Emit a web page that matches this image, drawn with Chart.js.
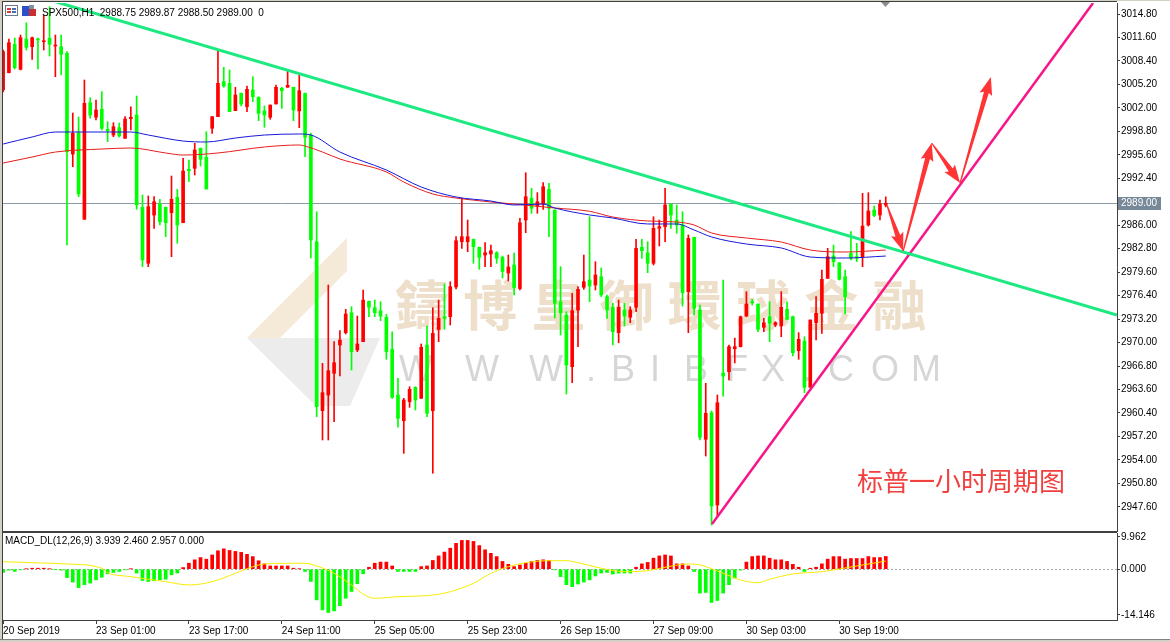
<!DOCTYPE html>
<html>
<head>
<meta charset="utf-8">
<title>SPX500 H1</title>
<script src="https://cdn.jsdelivr.net/npm/chart.js@4/dist/chart.umd.min.js"></script>
<style>
  html, body { margin: 0; padding: 0; background: #fff; }
  #box { position: relative; width: 1170px; height: 642px; overflow: hidden; background: #fff; }
  #box canvas { position: absolute; left: 0; }
  #priceCanvas { top: 0; }
  #macdCanvas { top: 532px; }
</style>
</head>
<body>
<div id="box">
  <canvas id="priceCanvas" width="1170" height="532"></canvas>
  <canvas id="macdCanvas" width="1170" height="110"></canvas>
</div>
<script>
// hourly candles, bar 0 = 20 Sep 2019
const opens = [
  3004.44,3006.80,3010.67,3007.26,3011.39,3010.34,3011.39,3011.02,3011.49,3010.44,
  3010.34,3009.44,2995.71,2998.62,2986.81,3002.71,3000.72,3001.81,2999.08,2998.30,
  2999.30,2997.85,3000.53,3001.03,2988.44,2980.81,2987.39,2988.89,2988.44,2987.71,
  2989.81,2986.34,2993.63,2993.76,2996.49,2995.26,2999.22,3000.80,3005.57,3005.35,
  3001.62,3003.99,3002.16,3004.44,3003.44,3001.58,3000.72,3002.53,3004.67,3004.81,
  3004.81,3001.58,3003.99,2998.30,2983.75,2960.71,2962.85,2965.81,2969.67,2971.35,
  2974.07,2968.99,2970.12,2975.63,2974.76,2974.35,2973.45,2969.08,2962.85,2959.35,
  2961.94,2963.90,2962.40,2969.67,2960.71,2971.81,2973.53,2973.53,2977.58,2983.75,
  2983.75,2984.08,2982.99,2981.94,2982.08,2982.25,2981.63,2979.49,2980.58,2977.36,
  2986.71,2989.67,2988.62,2988.89,2990.90,2988.08,2975.57,2973.76,2966.71,2974.44,
  2977.54,2978.53,2977.85,2978.98,2976.26,2974.81,2971.35,2974.44,2973.45,2974.81,
  2982.99,2982.25,2980.81,2985.58,2985.80,2988.89,2986.71,2986.03,2976.94,2984.35,
  2974.44,2956.81,2960.44,2947.85,2965.85,2966.03,2969.16,2969.44,2973.62,2975.57,
  2975.26,2972.08,2973.53,2972.40,2972.26,2974.54,2973.53,2968.89,2970.21,2963.90,
  2972.71,2973.99,2978.76,2981.80,2980.89,2978.98,2982.17,2981.71,2981.71,2986.03,
  2988.08,2987.39,2988.75
];
const highs = [
  3009.89,3011.39,3011.53,3011.94,3013.61,3011.67,3011.53,3014.66,3015.80,3011.94,
  3011.94,3009.66,3001.30,3000.76,3005.80,3003.39,3003.08,3004.21,3000.12,2999.98,
  2999.94,3000.80,3002.16,3003.62,2990.12,2989.99,2989.89,2989.54,2988.48,2992.71,
  2990.90,2995.13,2994.89,2997.17,2996.53,2998.75,3000.80,3009.89,3007.53,3007.17,
  3004.81,3004.03,3004.98,3006.25,3003.52,3002.26,3002.39,3005.12,3004.81,3007.07,
  3004.81,3006.72,3004.03,2998.58,2987.84,2967.17,2977.85,2970.12,2971.62,2974.54,
  2974.89,2973.62,2977.17,2975.67,2975.80,2975.57,2973.86,2971.48,2965.13,2962.40,
  2963.98,2963.98,2969.81,2972.26,2974.75,2975.80,2977.99,2978.30,2984.44,2989.67,
  2986.71,2984.12,2983.03,2983.62,2983.30,2982.39,2981.80,2981.94,2982.21,2986.94,
  2993.16,2991.04,2990.44,2991.80,2991.72,2988.08,2980.35,2974.21,2976.72,2977.62,
  2981.94,2987.16,2981.03,2980.17,2976.49,2975.35,2975.80,2975.35,2974.89,2984.08,
  2984.08,2983.75,2987.16,2986.71,2991.04,2988.89,2988.76,2987.84,2984.67,2984.39,
  2975.12,2964.45,2960.67,2962.85,2978.53,2969.67,2970.62,2973.62,2976.94,2975.90,
  2975.26,2973.31,2975.57,2972.85,2976.94,2975.57,2973.62,2971.35,2970.80,2973.08,
  2976.26,2979.90,2982.85,2983.30,2980.89,2979.90,2985.12,2983.54,2990.35,2990.44,
  2988.62,2989.44,2989.87
];
const lows = [
  3004.17,3006.76,3007.30,3007.17,3009.89,3008.62,3007.30,3009.89,3009.07,3006.25,
  3006.48,2983.30,2993.98,2989.89,2986.81,3000.58,3000.35,2998.98,2997.39,2998.07,
  2998.03,2997.85,2998.98,2988.17,2980.35,2980.35,2985.58,2986.03,2984.44,2981.71,
  2983.54,2986.34,2991.94,2992.85,2994.08,2990.94,2998.53,3000.80,3004.81,3001.48,
  3001.62,3002.26,3001.48,3002.84,3000.25,2999.35,3000.44,3002.53,3001.94,3004.81,
  3000.25,2999.30,2995.34,2981.53,2959.89,2956.72,2956.72,2959.21,2965.44,2971.17,
  2966.26,2968.76,2970.12,2973.53,2973.53,2972.98,2967.72,2962.40,2958.45,2954.90,
  2961.17,2960.81,2962.40,2959.89,2952.18,2970.12,2971.81,2972.40,2977.30,2982.85,
  2982.39,2980.81,2979.99,2980.35,2980.35,2980.81,2978.80,2978.40,2976.49,2977.17,
  2984.98,2987.63,2987.63,2988.17,2984.44,2973.35,2971.03,2962.99,2964.53,2969.44,
  2977.26,2975.57,2977.17,2976.26,2973.31,2969.67,2969.98,2972.26,2972.71,2974.21,
  2981.49,2979.53,2980.58,2983.17,2983.75,2985.58,2984.90,2974.99,2971.35,2973.76,
  2956.72,2954.53,2945.13,2946.26,2962.71,2964.90,2967.22,2969.40,2973.53,2975.12,
  2971.48,2971.48,2970.12,2972.16,2970.80,2973.08,2968.17,2967.72,2963.17,2963.90,
  2970.35,2971.26,2978.76,2980.35,2978.53,2973.90,2981.26,2981.03,2980.35,2985.89,
  2987.16,2986.71,2988.50
];
const closes = [
  3009.66,3010.89,3007.48,3011.57,3010.26,3011.57,3011.26,3011.16,3010.67,3010.57,
  3009.31,2996.03,2998.53,2990.26,3002.62,3001.03,3001.71,2999.22,2998.89,2999.43,
  2998.17,3000.48,3000.72,2988.76,2981.26,2988.53,2989.21,2986.48,2986.34,2989.54,
  2986.03,2993.39,2993.44,2996.26,2994.99,2990.94,3000.80,3005.35,3004.98,3001.48,
  3003.76,3002.53,3004.53,3003.52,3001.26,3001.03,3002.39,3004.81,3004.34,3005.08,
  3001.71,3004.34,2997.99,2983.99,2961.26,2963.17,2966.16,2967.26,2970.35,2973.90,
  2968.76,2969.81,2975.80,2974.81,2974.07,2973.62,2968.76,2962.54,2959.67,2962.17,
  2963.63,2962.17,2969.36,2960.36,2971.26,2973.31,2973.31,2977.62,2983.89,2984.44,
  2984.44,2983.07,2981.63,2982.25,2982.53,2981.49,2979.70,2980.30,2977.51,2986.34,
  2989.89,2988.31,2989.21,2991.25,2988.31,2975.35,2974.07,2966.94,2974.35,2977.26,
  2978.30,2977.71,2979.21,2976.49,2974.44,2971.48,2974.81,2973.62,2974.44,2982.85,
  2982.53,2980.81,2985.58,2985.80,2988.76,2987.39,2986.03,2976.80,2984.22,2974.67,
  2957.08,2960.36,2947.72,2961.80,2965.44,2969.44,2969.44,2973.53,2975.26,2975.44,
  2971.81,2972.71,2972.63,2972.71,2974.81,2973.17,2968.62,2970.45,2963.90,2973.08,
  2973.99,2978.63,2981.71,2981.03,2978.63,2976.26,2981.49,2981.49,2985.89,2987.94,
  2987.33,2988.89,2989.00
];

// two moving averages, read at a subset of bars
const blueMaBars = [0,5,9,14,22,25,31,35,40,45,51,53,58,66,72,78,84,88,93,95,101,105,111,116,119,122,128,134,139,145,152];
const blueMa = [2997.07,2998.03,2998.71,2998.71,2998.71,2998.30,2997.48,2997.35,2997.89,2998.30,2998.44,2998.30,2995.98,2993.53,2991.21,2989.85,2989.30,2988.76,2988.89,2988.35,2987.40,2986.98,2986.17,2986.17,2985.35,2984.40,2983.44,2982.90,2981.67,2981.53,2981.80];
const redMaBars = [0,5,9,17,22,28,31,37,45,51,52,55,58,66,69,74,78,84,88,95,101,105,111,116,119,122,128,134,139,145,152];
const redMa = [2994.48,2995.30,2995.98,2996.39,2996.53,2995.85,2995.57,2995.85,2996.67,2996.94,2996.80,2995.98,2995.03,2993.26,2991.89,2990.26,2989.71,2989.17,2988.89,2988.35,2987.90,2987.12,2986.58,2986.44,2986.03,2984.94,2984.26,2983.71,2982.62,2982.35,2982.62];

// hand-drawn lines: [bar, price] anchors
const greenTrend = [[7.2, 3016.90], [191.8, 2973.76]];
const pinkTrend = [[122.08, 2945.26], [187.7, 3016.30]];
const arrowBars = [152.2, 155.0, 159.9, 164.8, 170.1];
const arrowPrices = [2988.76, 2982.49, 2997.21, 2991.76, 3006.21];

// MACD histogram + signal
const macdHist = [
  -1.0,-0.3,-0.7,-0.2,0.1,0.3,0.3,0.3,0.1,-0.1,
  -0.3,-2.6,-4.0,-5.7,-4.8,-4.3,-3.3,-2.5,-1.4,-1.0,
  -0.7,-0.2,0.1,-1.2,-3.5,-3.8,-3.6,-3.3,-3.1,-1.75,
  -1.2,0.5,1.85,2.9,3.6,3.1,4.4,5.7,6.3,5.8,
  5.5,5.2,4.6,3.9,2.6,1.65,1.0,1.0,1.0,1.0,
  0.3,0.1,-0.7,-3.8,-9.5,-12.6,-13.4,-12.9,-11.3,-9.0,
  -6.9,-4.5,-1.4,0.6,1.85,2.2,2.2,1.0,-0.7,-0.7,
  -0.7,-0.7,0.8,1.0,2.7,4.1,5.3,6.5,8.0,8.9,
  8.9,8.6,7.3,6.0,4.9,3.9,2.4,1.5,0.8,1.3,
  1.85,2.4,2.7,2.9,2.7,-0.2,-2.3,-4.8,-5.4,-4.6,
  -4.0,-3.3,-2.1,-1.2,-1.0,-1.5,-1.2,-1.2,-1.2,0.6,
  1.65,2.1,3.4,4.1,4.4,4.1,1.65,1.65,1.0,-0.7,
  -7.4,-7.2,-10.3,-9.7,-7.4,-4.8,-2.8,-0.3,2.2,3.9,
  4.1,4.1,3.4,2.9,2.9,2.4,1.5,0.6,-0.7,0.3,
  0.6,1.65,3.1,3.9,3.9,3.1,3.3,3.3,3.3,3.9,
  3.6,3.6,3.94
];
const signalBars = [0,5,11,17,18,22,28,32,36,40,43,45,49,52,54,57,60,62,64,68,74,77,81,84,87,90,94,97,99,103,107,111,114,118,120,124,127,130,132,136,141,147,152];
const signalVals = [2.32,2.0,1.61,0.28,-1.08,-2.32,-3.87,-4.89,-3.87,-1.27,0.77,1.61,1.83,1.83,0.99,-1.27,-4.89,-7.68,-9.01,-8.52,-8.0,-6.98,-4.37,-1.27,0.77,2.0,2.63,2.63,2.0,0.28,-0.77,-0.46,0.59,1.61,1.30,-1.27,-3.35,-4.18,-3.13,-1.48,-0.77,0.99,2.5];

// axes
const priceTicks = [3014.8,3011.6,3008.4,3005.2,3002.0,2998.8,2995.6,2992.4,2986.0,2982.8,2979.6,2976.4,2973.2,2970.0,2966.8,2963.6,2960.4,2957.2,2954.0,2950.8,2947.6];
const priceMin = 2944.31, priceMax = 3016.30;
const macdTicks = [9.962, 0, -14.146];
const macdMin = -15.73, macdMax = 11.2;
const timeTickBars = [0,16,32,48,64,80,96,112,128,144];
const timeTickLabels = ['20 Sep 2019','23 Sep 01:00','23 Sep 17:00','24 Sep 11:00','25 Sep 05:00','25 Sep 23:00','26 Sep 15:00','27 Sep 09:00','30 Sep 03:00','30 Sep 19:00'];
const barMin = -0.017, barMax = 191.82;

const UP = '#ff0000', DOWN = '#00ff00';
const last = closes.length - 1;

Chart.defaults.font.family = "'Liberation Sans', Arial, sans-serif";
Chart.defaults.font.size = 10;
Chart.defaults.color = '#000';

function poly(ctx, pts) {
  ctx.beginPath();
  pts.forEach((p, k) => k ? ctx.lineTo(p[0], p[1]) : ctx.moveTo(p[0], p[1]));
  ctx.closePath();
  ctx.fill();
}

function arrow(ctx, x1, y1, x2, y2, hl, hw, sw) {
  const L = Math.hypot(x2 - x1, y2 - y1);
  const ux = (x2 - x1) / L, uy = (y2 - y1) / L, px = -uy, py = ux;
  const bx = x2 - ux * hl, by = y2 - uy * hl;
  poly(ctx, [
    [x1 + px * 0.6, y1 + py * 0.6],
    [bx + px * sw / 2, by + py * sw / 2],
    [bx + px * hw / 2 - ux * 2, by + py * hw / 2 - uy * 2],
    [x2, y2],
    [bx - px * hw / 2 - ux * 2, by - py * hw / 2 - uy * 2],
    [bx - px * sw / 2, by - py * sw / 2],
    [x1 - px * 0.6, y1 - py * 0.6]
  ]);
}

function windowEdge(ctx, h) {
  ctx.fillStyle = '#d4d0c8'; ctx.fillRect(0, 0, 2, h);
  ctx.fillStyle = '#404040'; ctx.fillRect(2, 0, 1, h);
}

// keep the plot box exactly where the padding puts it
function noOverhang(s) {
  s.paddingTop = 0; s.paddingBottom = 0; s.paddingLeft = 0; s.paddingRight = 0;
}

const priceDeco = {
  id: 'priceDeco',
  beforeDatasetsDraw(chart) {
    const { ctx, chartArea: a, scales: { y } } = chart;
    ctx.save();
    ctx.beginPath(); ctx.rect(a.left, a.top, a.right - a.left, a.bottom - a.top); ctx.clip();
    // watermark logo
    ctx.fillStyle = '#f5ead8';
    poly(ctx, [[247, 338], [347, 238], [347, 271], [280, 338]]);
    ctx.fillStyle = '#ececec';
    poly(ctx, [[247, 338], [380, 338], [350, 406], [316, 406]]);
    // watermark text
    ctx.textAlign = 'center'; ctx.textBaseline = 'middle';
    ctx.fillStyle = '#eedfca';
    ctx.font = 'bold 54px "Noto Sans CJK TC"';
    const wm = ['鑄','博','皇','御','環','球','金','融'];
    wm.forEach((c, k) => ctx.fillText(c, 422 + k * 68.2, 305));
    ctx.fillStyle = '#d6d6d6';
    ctx.font = '36px "Liberation Sans"';
    const url = ['W','W','W','.','B','I','B','F','X','.','C','O','M'];
    const ux = [416, 482, 546, 591, 623, 655, 696, 737, 773, 807, 841, 885, 926];
    url.forEach((c, k) => ctx.fillText(c, ux[k], 371));
    // bid line
    const yp = Math.round(y.getPixelForValue(closes[last])) + 0.5;
    ctx.strokeStyle = '#8a98a8'; ctx.lineWidth = 1;
    ctx.beginPath(); ctx.moveTo(a.left, yp); ctx.lineTo(a.right, yp); ctx.stroke();
    ctx.restore();
  },
  afterDatasetsDraw(chart) {
    const { ctx, scales: { x, y } } = chart;
    ctx.save();
    ctx.fillStyle = '#ff3434';
    for (let k = 0; k < arrowBars.length - 1; k++) {
      arrow(ctx,
        x.getPixelForValue(arrowBars[k]), y.getPixelForValue(arrowPrices[k]),
        x.getPixelForValue(arrowBars[k + 1]), y.getPixelForValue(arrowPrices[k + 1]),
        16, 13, 5);
    }
    ctx.fillStyle = '#f04040';
    ctx.font = '26px "Noto Sans CJK SC"';
    ctx.textAlign = 'left'; ctx.textBaseline = 'middle';
    ctx.fillText('标普一小时周期图', 857, 481);
    ctx.restore();
  },
  afterDraw(chart) {
    const { ctx, chartArea: a, scales: { y } } = chart;
    ctx.save();
    windowEdge(ctx, chart.height);
    ctx.fillStyle = '#d4d0c8'; ctx.fillRect(0, 0, chart.width, 1);
    ctx.fillStyle = '#404040'; ctx.fillRect(2, 1, a.right - 2, 1);
    ctx.fillRect(2, a.bottom, a.right - 2, 1);
    // header icons + text
    ctx.fillStyle = '#fff'; ctx.fillRect(5, 5, 13, 11);
    ctx.strokeStyle = '#6b7b8c'; ctx.strokeRect(5.5, 5.5, 12, 10);
    ctx.fillStyle = '#d04040'; ctx.fillRect(7, 8, 4, 2); ctx.fillRect(7, 11, 4, 2);
    ctx.fillStyle = '#4a6fb0'; ctx.fillRect(12, 8, 4, 2); ctx.fillRect(12, 11, 4, 2);
    ctx.fillStyle = '#2d4fc8'; ctx.fillRect(22, 6, 7, 10);
    ctx.fillStyle = '#c83030'; ctx.fillRect(29, 9, 7, 7);
    ctx.fillStyle = '#8090a0'; ctx.fillRect(29, 5, 5, 4);
    ctx.fillStyle = '#000'; ctx.font = '10px "Liberation Sans"';
    ctx.textAlign = 'left'; ctx.textBaseline = 'middle';
    ctx.fillText('SPX500,H1  ' + [opens[last], highs[last], lows[last], closes[last]].map(v => v.toFixed(2)).join(' ') + '  0', 42, 13);
    // shift marker
    ctx.fillStyle = '#8c8c8c';
    poly(ctx, [[881, 2], [890, 2], [885.5, 7]]);
    // bid price box
    const yp = Math.round(y.getPixelForValue(closes[last]));
    ctx.fillStyle = '#778899'; ctx.fillRect(a.right + 1, yp - 6, 43, 13);
    ctx.fillStyle = '#fff';
    ctx.fillText(closes[last].toFixed(2), a.right + 4, yp + 0.5);
    ctx.restore();
  }
};

new Chart(document.getElementById('priceCanvas'), {
  data: {
    datasets: [
      { type: 'line', data: greenTrend.map(p => ({ x: p[0], y: p[1] })), borderColor: '#1cea80', borderWidth: 3, pointRadius: 0, order: 0 },
      { type: 'line', data: pinkTrend.map(p => ({ x: p[0], y: p[1] })), borderColor: '#f8158a', borderWidth: 2.5, pointRadius: 0, order: 0 },
      { type: 'line', data: blueMaBars.map((b, k) => ({ x: b, y: blueMa[k] })), borderColor: '#1818d8', borderWidth: 1, pointRadius: 0, cubicInterpolationMode: 'monotone', order: 1 },
      { type: 'line', data: redMaBars.map((b, k) => ({ x: b, y: redMa[k] })), borderColor: '#e81c1c', borderWidth: 1, pointRadius: 0, cubicInterpolationMode: 'monotone', order: 1 },
      {
        type: 'bar', order: 2, grouped: false, barThickness: 3, minBarLength: 1, borderWidth: 0,
        data: opens.map((o, i) => ({ x: i, y: [o, closes[i]] })),
        backgroundColor: opens.map((o, i) => closes[i] >= o ? UP : DOWN)
      },
      {
        type: 'bar', order: 3, grouped: false, barThickness: 1, borderWidth: 0,
        data: lows.map((l, i) => ({ x: i, y: [l, highs[i]] })),
        backgroundColor: opens.map((o, i) => closes[i] >= o ? UP : DOWN)
      }
    ]
  },
  options: {
    responsive: false,
    animation: false,
    layout: { padding: { left: 3, top: 3, right: 0, bottom: 1 } },
    plugins: { legend: { display: false }, tooltip: { enabled: false } },
    scales: {
      x: { type: 'linear', min: barMin, max: barMax, offset: false, display: false },
      y: {
        position: 'right', min: priceMin, max: priceMax,
        afterFit(s) { s.width = 53; noOverhang(s); },
        afterBuildTicks(s) { s.ticks = priceTicks.map(v => ({ value: v })); },
        ticks: { callback: v => v.toFixed(2), padding: 1, color: '#000', font: { size: 10 } },
        grid: { drawOnChartArea: false, tickLength: 3, color: '#404040' },
        border: { color: '#404040' }
      }
    }
  },
  plugins: [priceDeco]
});

const macdDeco = {
  id: 'macdDeco',
  beforeDatasetsDraw(chart) {
    const { ctx, chartArea: a, scales: { y } } = chart;
    const y0 = Math.round(y.getPixelForValue(0)) + 0.5;
    ctx.save();
    ctx.strokeStyle = '#a8a8a8'; ctx.setLineDash([2, 2]); ctx.lineWidth = 1;
    ctx.beginPath(); ctx.moveTo(a.left, y0); ctx.lineTo(a.right, y0); ctx.stroke();
    ctx.restore();
  },
  afterDraw(chart) {
    const { ctx, chartArea: a } = chart;
    ctx.save();
    windowEdge(ctx, chart.height - 3);
    ctx.fillStyle = '#404040'; ctx.fillRect(2, a.top - 1, a.right - 2, 1);
    ctx.fillStyle = '#000'; ctx.font = '10px "Liberation Sans"';
    ctx.textAlign = 'left'; ctx.textBaseline = 'middle';
    ctx.fillText('MACD_DL(12,26,9) 3.939 2.460 2.957 0.000', 5, 9);
    // bottom tab strip
    ctx.fillStyle = '#d4d0c8'; ctx.fillRect(0, chart.height - 3, chart.width, 3);
    ctx.fillStyle = '#808080'; ctx.fillRect(0, chart.height - 3, chart.width, 1);
    ctx.restore();
  }
};

new Chart(document.getElementById('macdCanvas'), {
  data: {
    datasets: [
      { type: 'line', data: signalBars.map((b, k) => ({ x: b, y: signalVals[k] })), borderColor: '#f7ec00', borderWidth: 1, pointRadius: 0, cubicInterpolationMode: 'monotone', order: 0 },
      {
        type: 'bar', order: 1, grouped: false, barThickness: 3, borderWidth: 0,
        data: macdHist.map((v, i) => ({ x: i, y: v })),
        backgroundColor: macdHist.map(v => v >= 0 ? UP : DOWN)
      }
    ]
  },
  options: {
    responsive: false,
    animation: false,
    layout: { padding: { left: 3, top: 1, right: 0, bottom: 2 } },
    plugins: { legend: { display: false }, tooltip: { enabled: false } },
    scales: {
      x: {
        type: 'linear', min: barMin, max: barMax, offset: false,
        afterFit(s) { s.height = 20; noOverhang(s); },
        afterBuildTicks(s) { s.ticks = timeTickBars.map(v => ({ value: v })); },
        ticks: {
          callback: v => timeTickLabels[timeTickBars.indexOf(v)],
          align: 'start', autoSkip: false, maxRotation: 0, padding: 1, color: '#000', font: { size: 10 }
        },
        grid: { drawOnChartArea: false, offset: false, tickLength: 4, color: '#404040' },
        border: { color: '#404040' }
      },
      y: {
        position: 'right', min: macdMin, max: macdMax,
        afterFit(s) { s.width = 53; noOverhang(s); },
        afterBuildTicks(s) { s.ticks = macdTicks.map(v => ({ value: v })); },
        ticks: { callback: v => v.toFixed(3), padding: 1, color: '#000', font: { size: 10 } },
        grid: { drawOnChartArea: false, tickLength: 3, color: '#404040' },
        border: { color: '#404040' }
      }
    }
  },
  plugins: [macdDeco]
});
</script>
</body>
</html>
